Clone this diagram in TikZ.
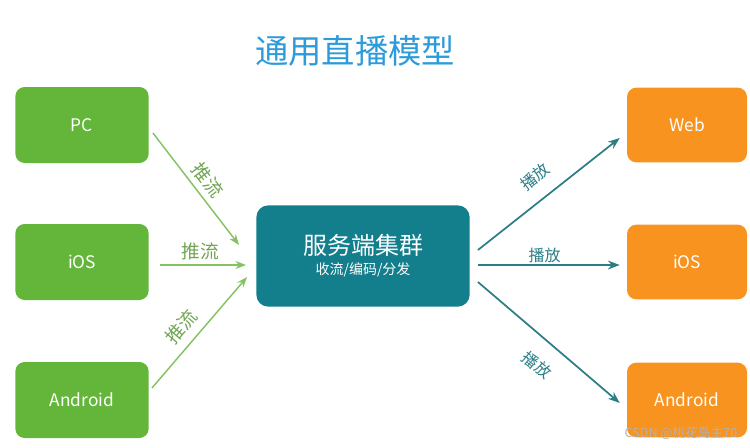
\documentclass[tikz,border=0pt]{standalone}
\usepackage{fontspec}
\setmainfont{Noto Sans CJK SC}
\usetikzlibrary{positioning, arrows.meta, calc}

\definecolor{srcgreen}{HTML}{63B63A}
\definecolor{srvteal}{HTML}{137E8C}
\definecolor{dstorange}{HTML}{F7931E}
\definecolor{titleblue}{HTML}{2D9ADA}
\definecolor{pushgreen}{HTML}{84C262}
\definecolor{playteal}{HTML}{2B7E85}

\begin{document}
\begin{tikzpicture}[
  x=0.75pt, y=-0.75pt,
  >=Stealth,
  %% Main node styles
  source/.style={
    fill=srcgreen, rounded corners=7pt, text=white,
    minimum width=100pt, minimum height=57pt, align=center,
    font=\fontsize{13}{15}\selectfont
  },
  server/.style={
    fill=srvteal, rounded corners=9pt, text=white,
    minimum width=160pt, minimum height=76pt, align=center
  },
  player/.style={
    fill=dstorange, rounded corners=7pt, text=white,
    minimum width=90pt, minimum height=56pt, align=center,
    font=\fontsize{13}{15}\selectfont
  },
  %% Connector styles
  push/.style={->, line width=1.1pt, pushgreen},
  play/.style={->, line width=1.3pt, playteal},
  pushlabel/.style={sloped, text=pushgreen!85!black, font=\fontsize{14}{16}\selectfont},
  playlabel/.style={sloped, text=playteal, font=\fontsize{12}{14}\selectfont},
]
\useasboundingbox (0,0) rectangle (750,447);

%% ── TITLE ─────────────────────────────────────────────────────────────────
\node[text=titleblue, font=\fontsize{25}{30}\selectfont] (title) at (355, 51) {通用直播模型};

%% ── MAIN NODES ────────────────────────────────────────────────────────────
\node[source] (pc)    at (82, 125) {PC};
\node[source] (iosl)  at (82, 262) {iOS};
\node[source] (andl)  at (82, 400) {Android};

\node[server] (srv)   at (363, 256) {%
  {\fontsize{18}{22}\selectfont 服务端集群}\\[3pt]
  {\fontsize{10.5}{13}\selectfont 收流/编码/分发}};

\node[player] (web)   at (687, 125) {Web};
\node[player] (iosr)  at (687, 262) {iOS};
\node[player] (andr)  at (687, 400) {Android};

%% ── PUSH ARROWS ───────────────────────────────────────────────────────────
\draw[push] ([shift={(4,8)}]pc.east) -- ([shift={(-17,-11)}]srv.west)
  node[pushlabel, pos=0.5, above=1pt] {推流};
\draw[push] ([shift={(11,3)}]iosl.east) -- ([shift={(-10,9)}]srv.west)
  node[pushlabel, pos=0.47, above] {推流};
\draw[push] ([shift={(3,-12)}]andl.east) -- ([shift={(-9,21)}]srv.west)
  node[pushlabel, pos=0.45, above=3pt] {推流};

%% ── PLAY ARROWS ───────────────────────────────────────────────────────────
\draw[play] ([shift={(8,-6)}]srv.east) -- ([shift={(-7,13)}]web.west)
  node[playlabel, pos=0.5, above=7pt] {播放};
\draw[play] ([shift={(8,9)}]srv.east) -- ([shift={(-7,3)}]iosr.west)
  node[playlabel, pos=0.47, above, inner sep=1pt] {播放};
\draw[play] ([shift={(8,26)}]srv.east) -- ([shift={(-7,3)}]andr.west)
  node[playlabel, pos=0.53, below=9pt] {播放};

%% watermark
\node[text=gray!60, font=\fontsize{9.5}{11}\selectfont, anchor=east] (mark) at (742, 433) {CSDN @桃花岛主70};

\end{tikzpicture}
\end{document}
